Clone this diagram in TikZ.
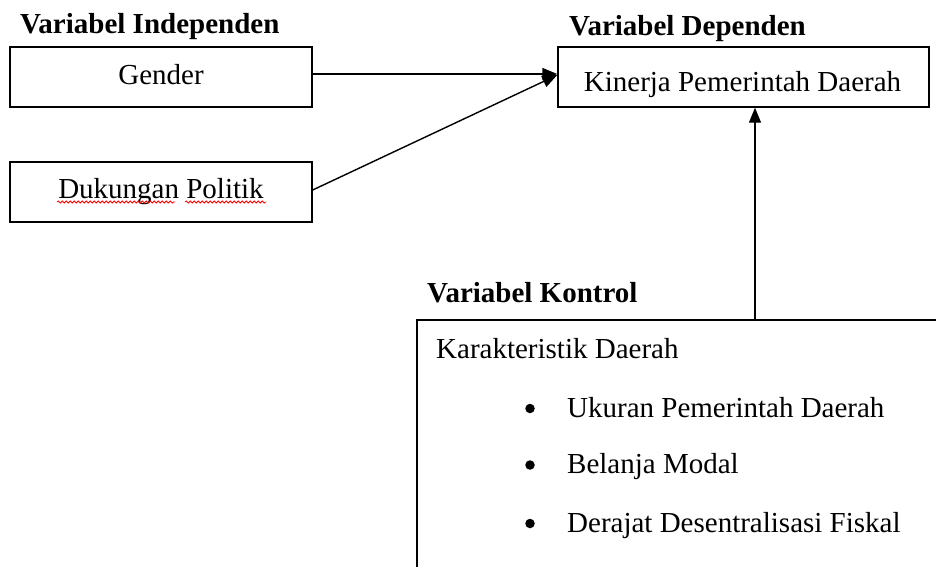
\documentclass[tikz,border=0pt]{standalone}
\usepackage{fontspec}
\setmainfont{Liberation Serif}
\usetikzlibrary{arrows.meta,decorations.pathmorphing}
\begin{document}
\begin{tikzpicture}[x=1pt,y=-1pt,
  every node/.style={font=\fontsize{29}{35}\selectfont, inner sep=0pt},
  box/.style={draw, line width=1.4pt, rectangle},
  title/.style={anchor=base west, font=\fontsize{29}{35}\selectfont\bfseries},
  lbl/.style={anchor=base},
  lblw/.style={anchor=base west},
  dot/.style={circle, fill=black, minimum size=9.5pt},
  arr/.style={line width=1.4pt, -{Triangle[length=15pt,width=12pt]}},
  squig/.style={red, line width=0.8pt, decorate, decoration={snake, amplitude=1pt, segment length=4pt}}]
\clip (0,0) rectangle (936,566);
\fill[white] (0,0) rectangle (936,566);
% titles
\node[title] (tind) at (20,33) {Variabel Independen};
\node[title] (tdep) at (569,35) {Variabel Dependen};
\node[title] (tkon) at (427,302) {Variabel Kontrol};
% boxes
\node[box, minimum width=302pt, minimum height=60pt] (gender) at (161,77) {};
\node[lbl] (tgender) at (161,84) {Gender};
\node[box, minimum width=302pt, minimum height=60pt] (dukungan) at (161,192) {};
\node[lbl] (tduk) at (161,198) {Dukungan Politik};
\node[box, minimum width=371pt, minimum height=60pt] (dep) at (743.5,77) {};
\node[lbl] (tdep2) at (742.5,91) {Kinerja Pemerintah Daerah};
\node[box, minimum width=533pt, minimum height=260pt] (kontrol) at (683.5,450) {};
% control content
\node[lblw] (kar) at (436,358) {Karakteristik Daerah};
\node[dot] (b1) at (530,408.5) {};
\node[lblw] (i1) at (567,417) {Ukuran Pemerintah Daerah};
\node[dot] (b2) at (530,465) {};
\node[lblw] (i2) at (567,473) {Belanja Modal};
\node[dot] (b3) at (530,523.5) {};
\node[lblw] (i3) at (567,532) {Derajat Desentralisasi Fiskal};
% spell-check marks
\draw[squig] (57,202) -- (175,202);
\draw[squig] (185,202) -- (266,202);
% connectors
\draw[arr] ([yshift=3pt]gender.east) -- ([yshift=3pt]dep.west);
\draw[arr] ([yshift=2pt]dukungan.east) -- ([yshift=2pt]dep.west);
\coordinate (kc) at (755,320);
\draw[arr] (kc) -- (kc |- dep.south);
\end{tikzpicture}
\end{document}
